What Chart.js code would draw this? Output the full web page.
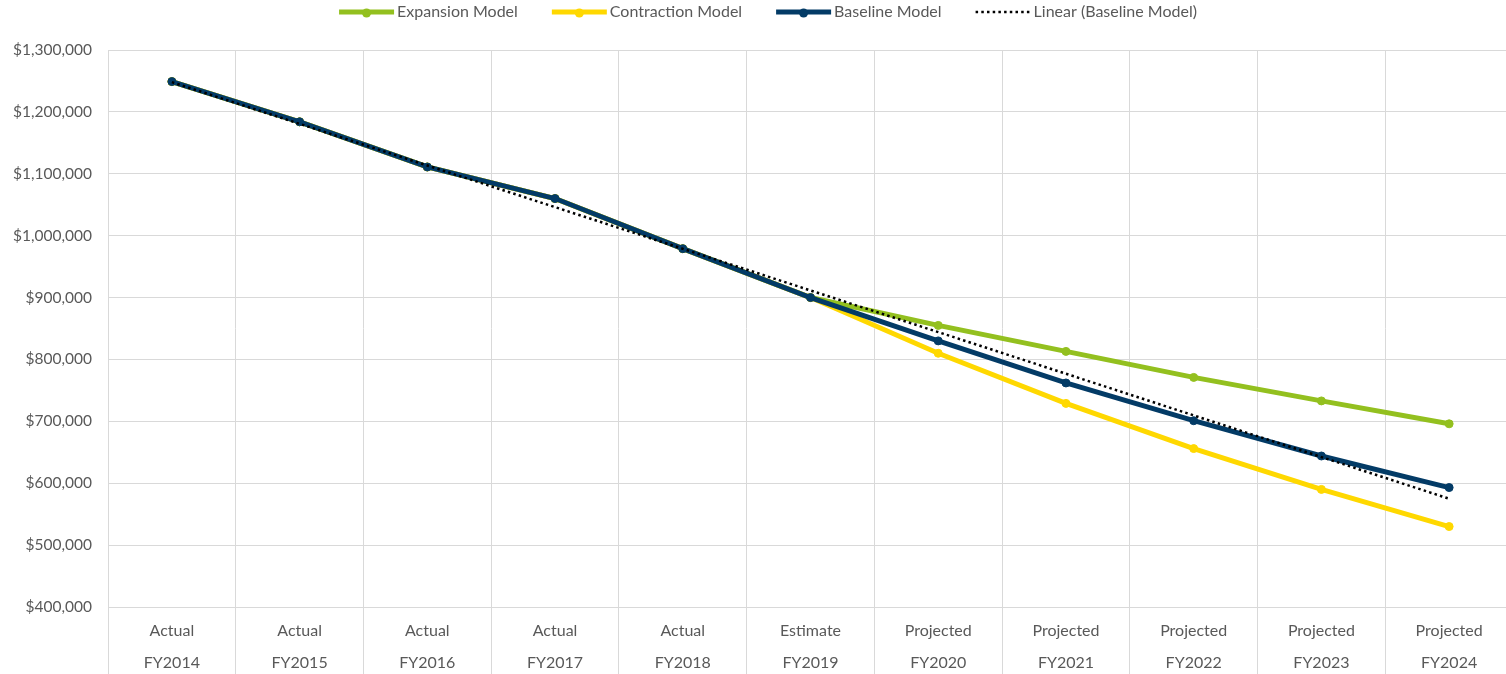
<!DOCTYPE html>
<html>
<head>
<meta charset="utf-8">
<title>Revenue Models FY2014-FY2024</title>
<script src="https://cdn.jsdelivr.net/npm/chart.js@4.4.1/dist/chart.umd.min.js"></script>
<style>
  html, body { margin: 0; padding: 0; background: #fff; overflow: hidden; }
  #wrap { width: 1518px; height: 674px; }
</style>
</head>
<body>
<div id="wrap"><canvas id="modelChart" width="1518" height="674"></canvas></div>
<script>
// two-level category axis: status row + fiscal year row
const phases = ['Actual', 'Actual', 'Actual', 'Actual', 'Actual', 'Estimate',
                'Projected', 'Projected', 'Projected', 'Projected', 'Projected'];
const fiscalYears = ['FY2014', 'FY2015', 'FY2016', 'FY2017', 'FY2018', 'FY2019',
                     'FY2020', 'FY2021', 'FY2022', 'FY2023', 'FY2024'];

const expansion   = [1249000, 1184000, 1111000, 1060000, 979000, 900000, 855000, 813000, 771000, 733000, 696000];
const contraction = [1249000, 1184000, 1111000, 1060000, 979000, 900000, 810000, 729000, 656000, 590000, 530000];
const baseline    = [1249000, 1184000, 1111000, 1060000, 979000, 900000, 830000, 762000, 701000, 644000, 593000];

// trendline end values (first and last year)
const trendStart = 1248000;
const trendEnd = 575000;

const yMin = 400000;
const yMax = 1300000;
const yStep = 100000;

const textColor = '#595959';
const gridColor = '#d9d9d9';
const fontFamily = 'Lato, "Open Sans", sans-serif';

const labels = phases.map((p, i) => [p, fiscalYears[i]]);
const trend = fiscalYears.map((_, i) =>
  i === 0 ? trendStart : (i === fiscalYears.length - 1 ? trendEnd : null));

// legend drawn by hand so each entry shows a line with a marker
const lineLegend = {
  id: 'lineLegend',
  afterDraw(chart) {
    const ctx = chart.ctx;
    const swatch = 55, gap = 3, spacing = 34, centerX = 768, y = 12;
    ctx.save();
    ctx.font = '16px ' + fontFamily;
    ctx.textBaseline = 'middle';
    const items = chart.data.datasets.map(ds => ({ ds, w: ctx.measureText(ds.label).width }));
    const total = items.reduce((s, it) => s + swatch + gap + it.w, 0) + spacing * (items.length - 1);
    let x = centerX - total / 2;
    items.forEach(({ ds, w }) => {
      ctx.beginPath();
      ctx.strokeStyle = ds.borderColor;
      ctx.lineWidth = ds.borderWidth;
      ctx.setLineDash(ds.borderDash || []);
      ctx.moveTo(x, y);
      ctx.lineTo(x + swatch, y);
      ctx.stroke();
      ctx.setLineDash([]);
      if (ds.pointRadius > 0) {
        ctx.beginPath();
        ctx.fillStyle = ds.borderColor;
        ctx.arc(x + swatch / 2, y + 1, ds.pointRadius + 0.5, 0, Math.PI * 2);
        ctx.fill();
      }
      ctx.fillStyle = textColor;
      ctx.fillText(ds.label, x + swatch + gap, y);
      x += swatch + gap + w + spacing;
    });
    ctx.restore();
  }
};

const seriesStyle = (color, order) => ({
  borderColor: color,
  backgroundColor: color,
  borderWidth: 5,
  pointRadius: 4,
  pointBorderWidth: 1,
  pointHoverRadius: 4,
  tension: 0,
  fill: false,
  order: order
});

new Chart(document.getElementById('modelChart'), {
  type: 'line',
  data: {
    labels: labels,
    datasets: [
      Object.assign({ label: 'Expansion Model', data: expansion }, seriesStyle('#93c01f', 4)),
      Object.assign({ label: 'Contraction Model', data: contraction }, seriesStyle('#ffd800', 3)),
      Object.assign({ label: 'Baseline Model', data: baseline }, seriesStyle('#033b66', 2)),
      {
        label: 'Linear (Baseline Model)',
        data: trend,
        spanGaps: true,
        borderColor: '#000000',
        borderWidth: 2.5,
        borderDash: [2.5, 3.2],
        pointRadius: 0,
        tension: 0,
        fill: false,
        order: 1
      }
    ]
  },
  options: {
    responsive: false,
    animation: false,
    layout: { padding: { top: 50, left: 0, right: 0, bottom: 0 } },
    plugins: {
      legend: { display: false },
      tooltip: { enabled: false }
    },
    scales: {
      x: {
        offset: true,
        grid: {
          offset: true,
          color: gridColor,
          lineWidth: 1,
          drawTicks: true,
          tickLength: 67,
          tickColor: gridColor
        },
        border: { color: gridColor },
        ticks: {
          color: textColor,
          font: { family: fontFamily, size: 16, lineHeight: 2 },
          padding: -59,
          maxRotation: 0,
          autoSkip: false
        },
        afterFit(scale) { scale.height = 67; }
      },
      y: {
        min: yMin,
        max: yMax,
        grid: { color: gridColor, lineWidth: 1, drawTicks: false },
        border: { color: gridColor },
        ticks: {
          stepSize: yStep,
          color: textColor,
          padding: 16,
          font: { family: fontFamily, size: 15.5 },
          callback: v => '$' + v.toLocaleString('en-US')
        },
        afterFit(scale) { scale.width = 108; }
      }
    }
  },
  plugins: [lineLegend]
});
</script>
</body>
</html>
